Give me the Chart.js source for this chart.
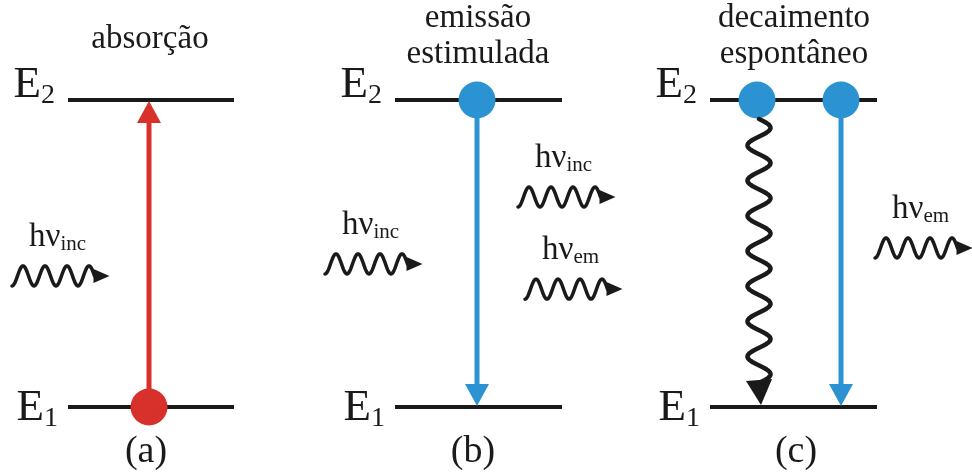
<!DOCTYPE html>
<html>
<head>
<meta charset="utf-8">
<script src="https://cdn.jsdelivr.net/npm/chart.js@4/dist/chart.umd.min.js"></script>
<style>
  html, body { margin: 0; padding: 0; background: #ffffff; }
  canvas { display: block; }
</style>
</head>
<body>
<canvas id="diagram" width="972" height="474"></canvas>
<script>
// Two-level system: ground state E1 and excited state E2 (energy in arbitrary units)
const levelMain = ['E', 'E'];
const levelSub = ['1', '2'];
const levelEnergy = [0, 1];

// The three processes
const panelLabels = ['(a)', '(b)', '(c)'];
const panelTitles = [['absorção'], ['emissão', 'estimulada'], ['decaimento', 'espontâneo']];
const panelCenter = [150, 478, 794];
const panelLetterX = [146, 473, 796];
const levelFrom = [68, 395, 710];
const levelTo = [234, 562, 877];

// Radiative transitions (straight arrows): x position, initial level, final level, kind
const transX = [149, 477, 841];
const transFrom = [0, 1, 1];
const transTo = [1, 0, 0];
const transKind = ['abs', 'em', 'em'];

// Spontaneous (wavy) decay
const decayX = [759];
const decayFrom = [1];
const decayTo = [0];

// Atoms sitting on a level
const atomX = [149, 477, 757, 841];
const atomLevel = [0, 1, 1, 1];
const atomKind = ['abs', 'em', 'em', 'em'];

// Photons hν: start of the wave, height (energy units), subscript
const photonX = [12, 325, 518, 525, 875];
const photonE = [0.427, 0.466, 0.684, 0.384, 0.518];
const photonSub = ['inc', 'inc', 'inc', 'em', 'em'];

const COLORS = { abs: '#d8302b', em: '#2b93d1', ink: '#1a1a1a' };
const SERIF = '"Liberation Serif", "DejaVu Serif", serif';
const HEAD_LEN = 22, HEAD_HALF = 12;

const datasets = [];

// energy levels
levelEnergy.forEach((e) => {
  panelLabels.forEach((_, p) => {
    datasets.push({
      data: [{ x: levelFrom[p], y: e }, { x: levelTo[p], y: e }],
      showLine: true, borderColor: COLORS.ink, borderWidth: 4,
      borderCapStyle: 'butt', pointRadius: 0, order: 3
    });
  });
});

// straight transition arrows
transX.forEach((x, i) => {
  datasets.push({
    data: [{ x, y: levelEnergy[transFrom[i]] }, { x, y: levelEnergy[transTo[i]] }],
    showLine: true, borderColor: COLORS[transKind[i]], borderWidth: 5,
    borderCapStyle: 'butt', pointRadius: 0, order: 2, arrowHead: true
  });
});

// atoms
datasets.push({
  data: atomX.map((x, i) => ({ x, y: levelEnergy[atomLevel[i]] })),
  pointRadius: 18.5, pointHoverRadius: 18.5, borderWidth: 0,
  backgroundColor: atomKind.map(k => COLORS[k]), order: 0
});

function subText(ctx, main, sub, x, y, size, subSize, drop, align) {
  ctx.font = size + 'px ' + SERIF;
  const w1 = ctx.measureText(main).width;
  ctx.font = subSize + 'px ' + SERIF;
  const w2 = ctx.measureText(sub).width;
  const left = align === 'right' ? x - w1 - w2 : x;
  ctx.textAlign = 'left';
  ctx.textBaseline = 'alphabetic';
  ctx.font = size + 'px ' + SERIF;
  ctx.fillText(main, left, y);
  ctx.font = subSize + 'px ' + SERIF;
  ctx.fillText(sub, left + w1, y + drop);
}

function triangle(ctx, tipX, tipY, dx, dy, len, half) {
  // dx,dy: unit direction of the arrow
  const bx = tipX - dx * len, by = tipY - dy * len;
  ctx.beginPath();
  ctx.moveTo(tipX, tipY);
  ctx.lineTo(bx - dy * half, by + dx * half);
  ctx.lineTo(bx + dy * half, by - dx * half);
  ctx.closePath();
  ctx.fill();
}

const diagramPlugin = {
  id: 'diagram',
  afterDatasetsUpdate(chart) {
    // pull each arrow shaft back into its head so the tip stays sharp
    chart.data.datasets.forEach((ds, i) => {
      if (!ds.arrowHead) return;
      const pts = chart.getDatasetMeta(i).data;
      const a = pts[0], b = pts[pts.length - 1];
      const dir = Math.sign(b.y - a.y);
      b.y -= dir * HEAD_LEN * 0.7;
    });
  },
  afterDatasetsDraw(chart) {
    const ctx = chart.ctx;
    const xs = chart.scales.x, ys = chart.scales.y;
    ctx.save();

    // arrow heads of the radiative transitions
    transX.forEach((x, i) => {
      const px = xs.getPixelForValue(x);
      const from = ys.getPixelForValue(levelEnergy[transFrom[i]]);
      const to = ys.getPixelForValue(levelEnergy[transTo[i]]);
      const dir = Math.sign(to - from);
      ctx.fillStyle = COLORS[transKind[i]];
      triangle(ctx, px, to - dir * 1, 0, dir, HEAD_LEN, HEAD_HALF);
    });

    // wavy arrow for spontaneous decay
    ctx.strokeStyle = COLORS.ink;
    ctx.fillStyle = COLORS.ink;
    ctx.lineCap = 'round';
    ctx.lineJoin = 'round';
    decayX.forEach((x, i) => {
      const px = xs.getPixelForValue(x);
      const y0 = ys.getPixelForValue(levelEnergy[decayFrom[i]]) + 19;
      const tip = ys.getPixelForValue(levelEnergy[decayTo[i]]) - 2;
      const y1 = tip - 22;
      const halfWaves = 15;
      const period = 2 * (y1 - y0) / halfWaves;
      ctx.lineWidth = 4.5;
      ctx.beginPath();
      for (let y = y0; y <= y1 + 0.01; y += 0.5) {
        const xx = px + 11.5 * Math.sin(2 * Math.PI * (y - y0) / period);
        if (y === y0) ctx.moveTo(xx, y); else ctx.lineTo(xx, y);
      }
      ctx.stroke();
      triangle(ctx, px + 2, tip, 0.08, 1, 25, 13);
    });

    // photons hν
    photonX.forEach((x, i) => {
      const x0 = xs.getPixelForValue(x);
      const yc = ys.getPixelForValue(photonE[i]);
      const P = 22, A = 10, n = 3.75;
      ctx.lineWidth = 3.5;
      ctx.beginPath();
      for (let t = 0; t <= n * P + 0.01; t += 0.5) {
        const yy = yc + A * Math.cos(2 * Math.PI * t / P);
        if (t === 0) ctx.moveTo(x0 + t, yy); else ctx.lineTo(x0 + t, yy);
      }
      ctx.stroke();
      triangle(ctx, x0 + n * P + 15, yc, 1, 0, 16, 7);
      ctx.fillStyle = COLORS.ink;
      subText(ctx, 'hν', photonSub[i], x0 + 17, yc - 30, 33, 21, 4, 'left');
    });

    // level names
    ctx.fillStyle = COLORS.ink;
    const labelDy = [13, -3];
    const labelDx = [-10, -13];
    levelEnergy.forEach((e, li) => {
      const py = ys.getPixelForValue(e);
      levelFrom.forEach((x) => {
        subText(ctx, levelMain[li], levelSub[li], xs.getPixelForValue(x) + labelDx[li],
          py + labelDy[li], 45, 28, 6, 'right');
      });
    });

    // titles and panel letters
    ctx.textAlign = 'center';
    ctx.textBaseline = 'alphabetic';
    ctx.font = '33px ' + SERIF;
    panelTitles.forEach((lines, p) => {
      const cx = xs.getPixelForValue(panelCenter[p]);
      const base = lines.length === 1 ? [48] : [27, 63];
      lines.forEach((s, k) => ctx.fillText(s, cx, base[k]));
    });
    ctx.font = '38px ' + SERIF;
    panelLabels.forEach((s, p) => {
      ctx.fillText(s, xs.getPixelForValue(panelLetterX[p]), 462);
    });

    ctx.restore();
  }
};

// y range chosen so E1 and E2 sit at the heights of the drawing
new Chart(document.getElementById('diagram'), {
  type: 'scatter',
  data: { datasets },
  options: {
    responsive: false,
    animation: false,
    events: [],
    layout: { padding: 0, autoPadding: false },
    plugins: { legend: { display: false }, tooltip: { enabled: false } },
    scales: {
      x: { type: 'linear', min: 0, max: 972, display: false },
      y: { type: 'linear', min: -0.21824, max: 1.32573, display: false }
    }
  },
  plugins: [diagramPlugin]
});
</script>
</body>
</html>
